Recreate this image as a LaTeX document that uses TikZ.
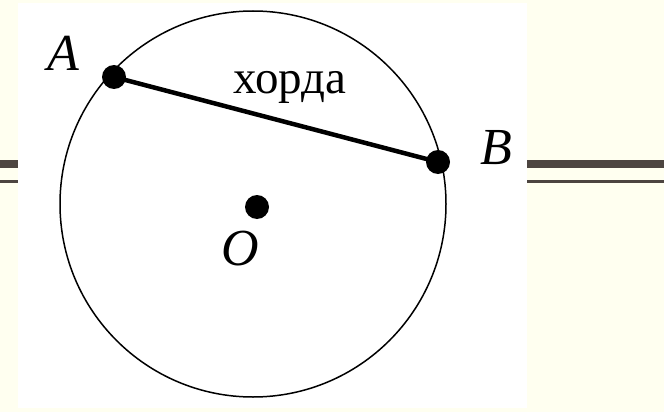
\documentclass[tikz,border=0pt]{standalone}
\usepackage{fontspec}
\setmainfont{Liberation Serif}
\usetikzlibrary{positioning}
\definecolor{cream}{HTML}{FFFFF0}
\definecolor{paper}{HTML}{FFFFFF}
\definecolor{rule}{HTML}{4D4540}
\definecolor{ink}{HTML}{000000}
\tikzset{
  rim/.style={
    circle,
    draw=ink,
    line width=1.5pt,
    minimum size=386pt,
    inner sep=0pt
  },
  dot/.style={
    circle,
    fill=ink,
    minimum size=24pt,
    inner sep=0pt
  },
  chord/.style={
    draw=ink,
    line width=4.5pt
  },
  ptlabel/.style={
    font=\fontsize{52}{52}\selectfont\itshape,
    text=ink,
    inner sep=0pt
  },
  word/.style={
    font=\fontsize{47}{47}\selectfont,
    text=ink,
    inner sep=0pt
  }
}

\begin{document}
\begin{tikzpicture}[x=1pt, y=-1pt]
  %===========================================================
  % Slide background: cream page, white picture, double rules
  %===========================================================
  \fill[cream] (0,0) rectangle (664,412);
  \useasboundingbox (0,0) rectangle (664,412);
  \fill[paper] (18,3) rectangle (527,408);
  \fill[rule] (0,160) rectangle (18,167.7);
  \fill[rule] (0,180) rectangle (18,183);
  \fill[rule] (527,160) rectangle (664,167.7);
  \fill[rule] (527,180) rectangle (664,183);

  %===========================================================
  % Circle, centre and the chord AB
  %===========================================================
  \node[rim] (circ) at (253,204) {};

  \node[dot] (A) at (114,77) {};
  \node[dot] (B) at (438,162) {};
  \node[dot] (O) at (257,207) {};

  \draw[chord] (A.center) -- (B.center);

  \node[ptlabel] (lblA) at (63,53)  {A};
  \node[ptlabel] (lblB) at (496,148) {B};
  \node[ptlabel] (lblO) at (240,249) {O};

  \node[word] (lblchord) at (290,87) {хорда};
\end{tikzpicture}
\end{document}
